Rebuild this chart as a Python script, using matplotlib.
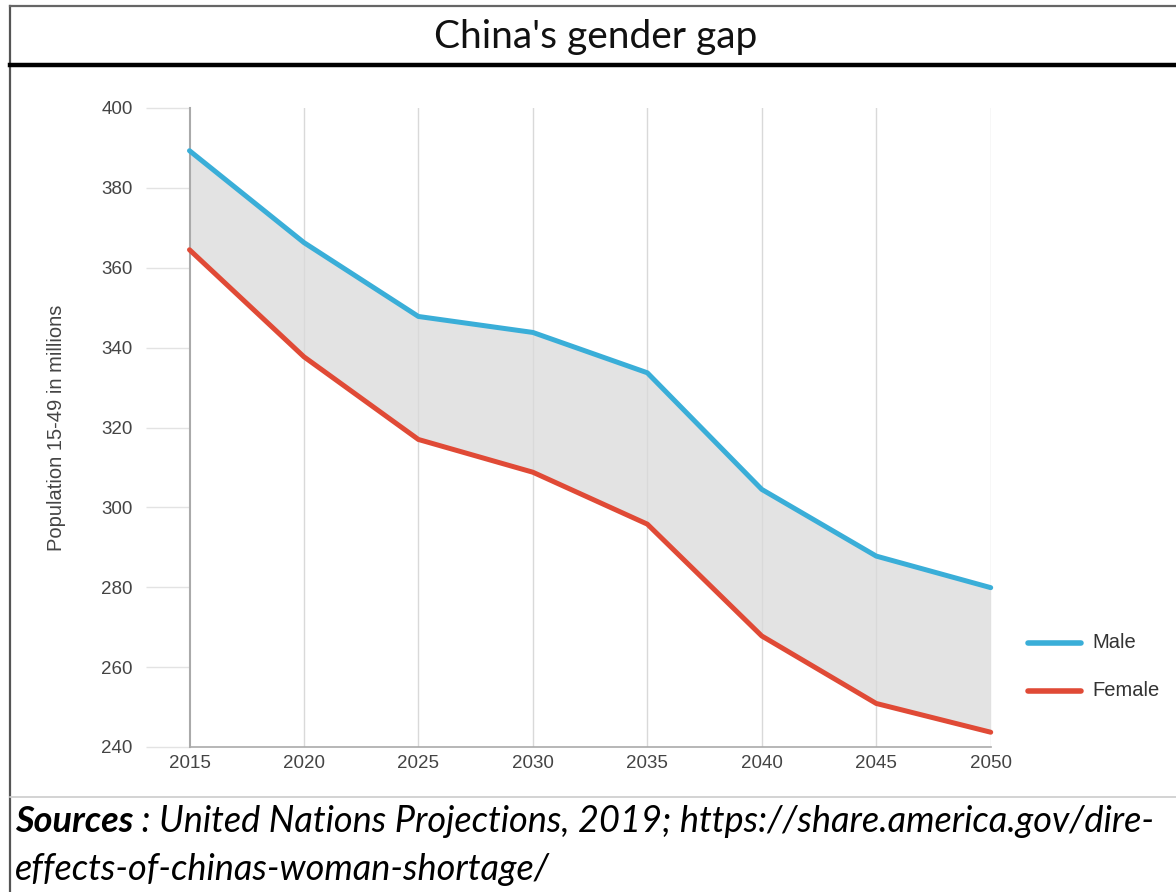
import matplotlib
matplotlib.use("Agg")
import matplotlib.pyplot as plt
from matplotlib.lines import Line2D

years = [2015, 2020, 2025, 2030, 2035, 2040, 2045, 2050]
male = [389.3, 366.3, 347.8, 343.8, 333.7, 304.5, 287.8, 279.9]
female = [364.5, 337.7, 317.0, 308.8, 295.8, 267.8, 250.9, 243.7]
y_ticks = [240, 260, 280, 300, 320, 340, 360, 380, 400]
title = "China's gender gap"
ylabel = "Population 15-49 in millions"
series_names = ["Male", "Female"]
source_label = "Sources"
source_rest = " : United Nations Projections, 2019; https://share.america.gov/dire-"
source_line2 = "effects-of-chinas-woman-shortage/"

W, H = 1176, 892
fig = plt.figure(figsize=(W / 100, H / 100), dpi=100)

def fx(px):
    return px / W

def fy(py):
    return 1 - py / H

# Frame lines (figure coords)
fig.add_artist(Line2D([fx(10), fx(10)], [fy(6), 0], color="#555555", lw=1.6))
fig.add_artist(Line2D([fx(10), 1], [fy(6), fy(6)], color="#666666", lw=1.6))
fig.add_artist(Line2D([fx(10), 1], [fy(65), fy(65)], color="#000000", lw=3.2))
fig.add_artist(Line2D([fx(10), 1], [fy(797), fy(797)], color="#cccccc", lw=1.2))

# Title
fig.text(fx(596), fy(37), title, ha="center", va="center",
         fontsize=28, family="Lato", color="#111111")

# Axes
left, right, top, bottom = 189.5, 990.7, 108, 747
ax = fig.add_axes([fx(left), fy(bottom), fx(right - left), (bottom - top) / H])
ax.set_xlim(2015, 2050)
ax.set_ylim(240, 400)

ax.fill_between(years, female, male, color="#e3e3e3", lw=0, zorder=1)
for yr in years[1:]:
    ax.axvline(yr, color="#d9d9d9", lw=1.0, zorder=1.5)
ax.plot(years, male, color="#3aaed8", lw=3.6, solid_capstyle="round",
        solid_joinstyle="round", zorder=3, clip_on=False)
ax.plot(years, female, color="#e04a36", lw=3.6, solid_capstyle="round",
        solid_joinstyle="round", zorder=3, clip_on=False)

for s in ["top", "right"]:
    ax.spines[s].set_visible(False)
ax.spines["left"].set_color("#aaaaaa")
ax.spines["bottom"].set_color("#aaaaaa")
ax.spines["left"].set_linewidth(1.5)
ax.spines["bottom"].set_linewidth(1.2)

ax.set_yticks(y_ticks)
ax.set_yticklabels([str(v) for v in y_ticks])
ax.set_xticks(years)
ax.set_xticklabels([str(v) for v in years])
ax.tick_params(axis="y", length=32, width=1.0, color="#e3e3e3", pad=9,
               labelsize=13.5, labelcolor="#444444")
ax.tick_params(axis="x", length=0, pad=6, labelsize=13.5, labelcolor="#444444")
for lab in ax.get_xticklabels() + ax.get_yticklabels():
    lab.set_family("Liberation Sans")

fig.text(fx(57), fy(428), ylabel, rotation=90, ha="center", va="center",
         fontsize=14.5, family="Liberation Sans", color="#444444")

# Legend
colors = ["#3aaed8", "#e04a36"]
for name, c, py in zip(series_names, colors, [643, 691]):
    fig.add_artist(Line2D([fx(1028), fx(1081)], [fy(py), fy(py)], color=c,
                          lw=4, solid_capstyle="round"))
    fig.text(fx(1092), fy(py), name, ha="left", va="center", fontsize=14.5,
             family="Liberation Sans", color="#333333")

# Sources
t1 = fig.text(fx(15), fy(822), source_label, ha="left", va="center",
              fontsize=26, family="Lato", style="italic", weight="bold",
              color="#000000")
renderer = fig.canvas.get_renderer()
bb = t1.get_window_extent(renderer=renderer)
fig.text(bb.x1 / W, fy(822), source_rest, ha="left", va="center",
         fontsize=26, family="Lato", style="italic", color="#000000")
fig.text(fx(15), fy(869), source_line2, ha="left", va="center",
         fontsize=26, family="Lato", style="italic", color="#000000")

fig.savefig("out.png", dpi=100)
